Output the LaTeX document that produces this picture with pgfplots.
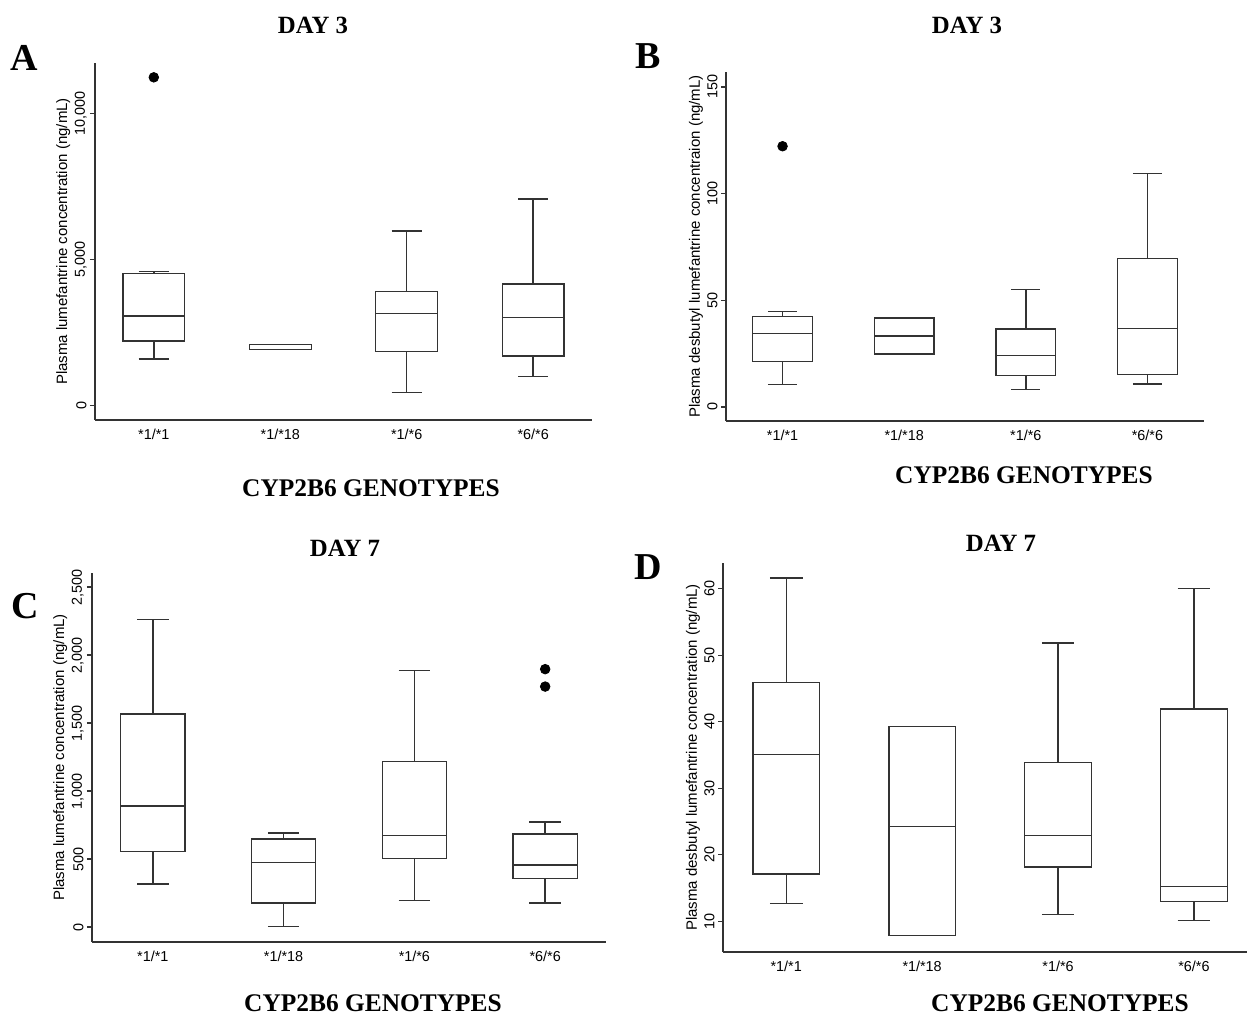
\documentclass[border=0pt]{standalone}
\usepackage{pgfplots}
\pgfplotsset{compat=1.18}
\usepackage{fontspec}
\setmainfont{Liberation Sans}
\newfontfamily\serifb{Liberation Serif}
\definecolor{linec}{HTML}{333333}
\pgfplotsset{
  stbox/.style={
    scale only axis,
    axis lines=left,
    x axis line style={-, draw=linec, line width=0.65pt},
    y axis line style={-, draw=linec, line width=0.65pt},
    xmin=0.535, xmax=4.465,
    xtick={1,2,3,4},
    xticklabels={*1/*1,*1/*18,*1/*6,*6/*6},
    x tick label style={font=\fontsize{7.2}{8}\selectfont, inner sep=2pt},
    major x tick style={draw=none},
    tick align=outside,
    major tick length=2.5pt,
    ytick style={draw=linec, line width=0.65pt},
    yticklabel style={rotate=90, anchor=south, font=\fontsize{7.2}{8}\selectfont, inner sep=1.5pt},
    /pgf/number format/assume math mode=true,
    /pgf/number format/1000 sep={,},
    scaled y ticks=false,
    ylabel style={font=\fontsize{7.5}{8}\selectfont, inner sep=0.5pt},
  },
  bx/.style={draw=linec, line width=0.7pt, solid, mark=none, line join=miter},
  outl/.style={only marks, mark=*, mark size=2.4pt, mark options={fill=black, draw=black, solid}},
}
% box: #1 position, #2 lower whisker, #3 lower quartile, #4 median, #5 upper quartile, #6 upper whisker
\newcommand{\bxp}[6]{%
  \pgfmathsetmacro{\xl}{#1-0.245}\pgfmathsetmacro{\xr}{#1+0.245}%
  \pgfmathsetmacro{\wl}{#1-0.12}\pgfmathsetmacro{\wr}{#1+0.12}%
  \addplot[bx] coordinates {(\xl,#3) (\xr,#3) (\xr,#5) (\xl,#5)} -- cycle;
  \addplot[bx] coordinates {(\xl,#4) (\xr,#4)};
  \addplot[bx] coordinates {(#1,#5) (#1,#6)};
  \addplot[bx] coordinates {(\wl,#6) (\wr,#6)};
  \addplot[bx] coordinates {(#1,#3) (#1,#2)};
  \addplot[bx] coordinates {(\wl,#2) (\wr,#2)};
}
\newcommand{\ttl}[1]{{\serifb\bfseries\fontsize{12.4}{14}\selectfont #1}}
\newcommand{\lett}[1]{{\serifb\bfseries\fontsize{19}{22}\selectfont #1}}
\newcommand{\gen}{{\serifb\bfseries\fontsize{12.7}{15}\selectfont CYP2B6 GENOTYPES}}
\begin{document}
\begin{tikzpicture}
% ---------------- Panel A ----------------
\begin{axis}[stbox, at={(47.5pt,-210pt)}, anchor=south west,
  width=248.5pt, height=178.5pt,
  ymin=-491, ymax=11737, ytick={0,5000,10000},
  ylabel={Plasma lumefantrine concentration (ng/mL)}]
\bxp{1}{1600}{2217}{3074}{4537}{4600}
\bxp{2}{1931}{1931}{2103}{2103}{2103}
\bxp{3}{457}{1851}{3166}{3909}{5989}
\bxp{4}{994}{1703}{3017}{4171}{7074}
\addplot[outl] coordinates {(1,11246)};
\end{axis}
% ---------------- Panel B ----------------
\begin{axis}[stbox, at={(363pt,-210.5pt)}, anchor=south west,
  width=239pt, height=174.5pt,
  ymin=-6.6, ymax=157, ytick={0,50,100,150},
  ylabel={Plasma desbutyl lumefantrine concentraion (ng/mL)}]
\bxp{1}{10.5}{21.25}{34.4}{42.3}{44.8}
\bxp{2}{24.8}{24.8}{33.3}{41.6}{41.6}
\bxp{3}{8.3}{14.7}{24.2}{36.6}{55}
\bxp{4}{10.8}{15.2}{36.7}{69.5}{109.4}
\addplot[outl] coordinates {(1,122.2)};
\end{axis}
% ---------------- Panel C ----------------
\begin{axis}[stbox, at={(46pt,-471pt)}, anchor=south west,
  width=257pt, height=184.5pt,
  ymin=-110, ymax=2603, ytick={0,500,1000,1500,2000,2500},
  ylabel={Plasma lumefantrine concentration (ng/mL)}]
\bxp{1}{317}{555}{891}{1567}{2259}
\bxp{2}{5}{177}{476}{648}{692}
\bxp{3}{196}{503}{673}{1216}{1888}
\bxp{4}{177}{358}{457}{685}{771}
\addplot[outl] coordinates {(4,1896) (4,1768)};
\end{axis}
% ---------------- Panel D ----------------
\begin{axis}[stbox, at={(361.5pt,-476pt)}, anchor=south west,
  width=262pt, height=194.5pt, xmax=4.39,
  ymin=5.4, ymax=63.85, ytick={10,20,30,40,50,60},
  ylabel={Plasma desbutyl lumefantrine concentration (ng/mL)}]
\bxp{1}{12.65}{17.15}{35.1}{45.9}{61.6}
\bxp{2}{7.9}{7.9}{24.3}{39.25}{39.25}
\bxp{3}{11.05}{18.15}{22.95}{33.85}{51.8}
\bxp{4}{10.1}{12.95}{15.2}{41.9}{60.05}
\end{axis}
% ---------------- Titles and labels ----------------
\node[inner sep=0] at (156.5pt,-12.5pt) {\ttl{DAY 3}};
\node[inner sep=0] at (483.5pt,-12.5pt) {\ttl{DAY 3}};
\node[inner sep=0] at (172.5pt,-274pt) {\ttl{DAY 7}};
\node[inner sep=0] at (500.5pt,-271.75pt) {\ttl{DAY 7}};
\node[inner sep=0] at (12pt,-28.75pt) {\lett{A}};
\node[inner sep=0] at (324pt,-28pt) {\lett{B}};
\node[inner sep=0] at (12.5pt,-303pt) {\lett{C}};
\node[inner sep=0] at (324pt,-283.5pt) {\lett{D}};
\node[inner sep=0] at (185.5pt,-244pt) {\gen};
\node[inner sep=0] at (512pt,-237.75pt) {\gen};
\node[inner sep=0] at (186.5pt,-501.5pt) {\gen};
\node[inner sep=0] at (530pt,-501.5pt) {\gen};
\pgfresetboundingbox
\path (0,0) rectangle (625pt,-508pt);
\end{tikzpicture}
\end{document}
